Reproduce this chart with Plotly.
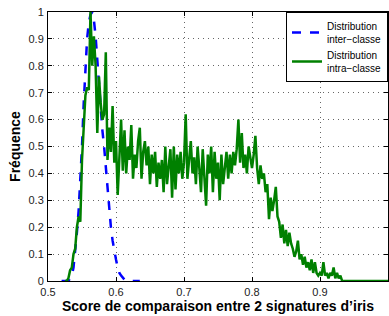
import numpy as np
import plotly.graph_objects as go

# Inter-class distribution (blue dashed), x from 0.52 step 0.0025
inter_x0 = 0.52
inter_vals = [0, 0, 0, 0, 0, 0.01, 0.02, 0.05, 0.11, 0.18, 0.26, 0.36, 0.50, 0.66, 0.80,
              0.90, 0.96, 0.99, 1.0, 0.97, 0.91, 0.82, 0.72, 0.63, 0.56, 0.50, 0.42, 0.34,
              0.26, 0.20, 0.15, 0.11, 0.08, 0.05, 0.03, 0.02, 0.01, 0.005, 0, 0, 0, 0, 0, 0, 0, 0, 0]

# Intra-class distribution (green), x from 0.525 step 0.0025
intra_x0 = 0.525
intra_vals = [0, 0, 0.01, 0.04, 0.05, 0.10, 0.12, 0.20, 0.24, 0.22,
              0.45, 0.57, 0.69, 0.72, 0.71, 1.00, 0.80, 0.91, 0.80, 0.55,
              0.76, 0.66, 0.60, 0.62, 0.85, 0.45, 0.57, 0.48, 0.65, 0.44,
              0.52, 0.32, 0.48, 0.60, 0.41, 0.56, 0.40, 0.50, 0.45, 0.58,
              0.38, 0.47, 0.42, 0.52, 0.57, 0.38, 0.48, 0.52, 0.43, 0.50,
              0.36, 0.47, 0.40, 0.48, 0.35, 0.44, 0.38, 0.45, 0.33, 0.50,
              0.36, 0.42, 0.49, 0.31, 0.50, 0.34, 0.47, 0.40, 0.48, 0.38,
              0.44, 0.62, 0.38, 0.45, 0.52, 0.40, 0.46, 0.36, 0.50, 0.42,
              0.33, 0.49, 0.36, 0.28, 0.47, 0.40, 0.50, 0.33, 0.48, 0.38,
              0.44, 0.30, 0.47, 0.36, 0.42, 0.48, 0.38, 0.47, 0.40, 0.48,
              0.43, 0.49, 0.60, 0.44, 0.55, 0.42, 0.47, 0.40, 0.50, 0.45,
              0.42, 0.47, 0.54, 0.42, 0.36, 0.43, 0.38, 0.40, 0.33, 0.36,
              0.23, 0.31, 0.26, 0.30, 0.35, 0.24, 0.22, 0.16, 0.21, 0.14,
              0.19, 0.13, 0.18, 0.14, 0.12, 0.09, 0.11, 0.15, 0.08, 0.10,
              0.06, 0.09, 0.05, 0.07, 0.04, 0.08, 0.03, 0.07, 0.03, 0.02,
              0.03, 0.02, 0.07, 0.02, 0.03, 0.01, 0.03, 0.02, 0.05, 0.01,
              0.03, 0.01, 0.02, 0, 0]
intra_tail_x = [0.94, 1.0]
intra_tail_vals = [0, 0]

step = 0.0025
inter_x = np.round(inter_x0 + step * np.arange(len(inter_vals)), 4)
intra_x = np.concatenate([np.round(intra_x0 + step * np.arange(len(intra_vals)), 4), intra_tail_x])
intra_y = list(intra_vals) + intra_tail_vals

x_ticks = [0.5, 0.6, 0.7, 0.8, 0.9, 1.0]
x_tick_labels = ["0.5", "0.6", "0.7", "0.8", "0.9", "1"]
y_ticks = [0, 0.1, 0.2, 0.3, 0.4, 0.5, 0.6, 0.7, 0.8, 0.9, 1.0]
y_tick_labels = ["0", "0.1", "0.2", "0.3", "0.4", "0.5", "0.6", "0.7", "0.8", "0.9", "1"]

fig = go.Figure()
fig.add_trace(go.Scatter(x=inter_x, y=inter_vals, mode="lines",
                         name="Distribution<br>inter\u2212classe",
                         line=dict(color="#0000ff", width=2.5, dash="dash")))
fig.add_trace(go.Scatter(x=intra_x, y=intra_y, mode="lines",
                         name="Distribution<br>intra\u2212classe",
                         line=dict(color="#008000", width=2.5)))

axis_common = dict(showline=True, linecolor="black", linewidth=1, mirror="ticks",
                   ticks="inside", ticklen=4, tickcolor="black",
                   showgrid=True, gridcolor="#666666", griddash="1px,4px", gridwidth=1,
                   zeroline=False, tickfont=dict(family="Liberation Sans, Arial", size=11, color="#222"))

fig.update_xaxes(range=[0.5, 1.0], tickvals=x_ticks, ticktext=x_tick_labels,
                 title=dict(text="<b>Score de comparaison entre 2 signatures d\u2019iris</b>",
                            font=dict(family="Liberation Sans, Arial", size=14, color="black"),
                            standoff=0),
                 ticklabelstandoff=1,
                 **axis_common)
fig.update_yaxes(range=[0, 1.0], tickvals=y_ticks, ticktext=y_tick_labels,
                 title=dict(text="<b>Fréquence</b>",
                            font=dict(family="Liberation Sans, Arial", size=14, color="black"),
                            standoff=4),
                 ticklabelstandoff=1,
                 **axis_common)

fig.update_layout(
    width=389, height=316,
    margin=dict(l=48, r=1, t=12, b=35),
    paper_bgcolor="white", plot_bgcolor="white",
    showlegend=True,
    legend=dict(x=1, y=1, xanchor="right", yanchor="top",
                bordercolor="black", borderwidth=1, bgcolor="white",
                font=dict(family="Liberation Sans, Arial", size=10, color="black"),
                itemwidth=30, tracegroupgap=2),
)

fig.write_html("out.html",
               config={"displayModeBar": False},
               post_script="document.body.style.margin='0';document.body.style.overflow='hidden';")
